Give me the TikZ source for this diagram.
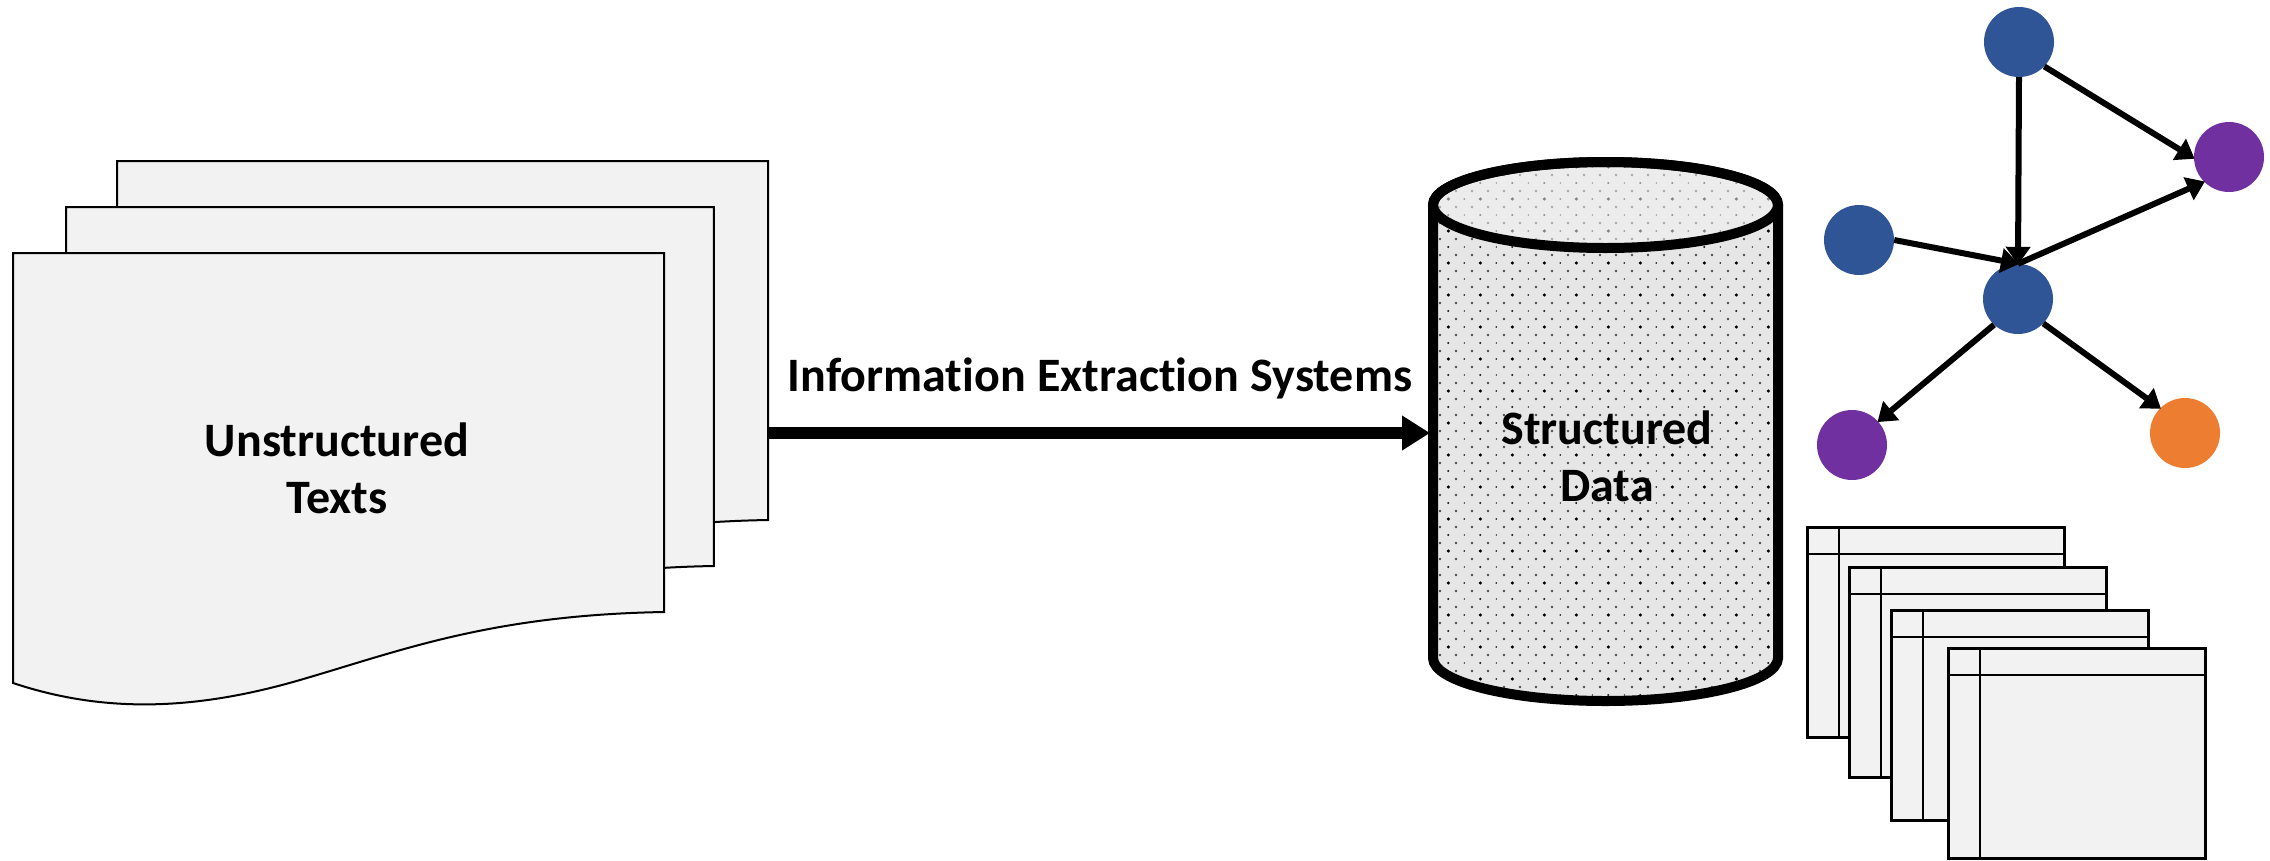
\documentclass[tikz,border=0pt]{standalone}
\usepackage{fontspec}
\setmainfont[Ligatures=NoCommon,WordSpace=1.05]{Carlito}
\usetikzlibrary{arrows.meta}
\definecolor{paper}{HTML}{F2F2F2}
\definecolor{cylbody}{HTML}{E6E6E6}
\definecolor{nblue}{HTML}{2F5597}
\definecolor{npurple}{HTML}{7030A0}
\definecolor{norange}{HTML}{ED7D31}
\tikzset{
  x=1pt,y=-1pt,
  docsheet/.style={draw=black,fill=paper,line width=2pt,line join=miter},
  tablesheet/.style={draw=black,fill=paper,line width=3pt},
  tableline/.style={draw=black,line width=2.8pt},
  gnode/.style={circle,minimum size=70pt,inner sep=0pt,draw=none},
  gedge/.style={draw=black,line width=6pt,-{Triangle[length=18pt,width=24pt]},shorten >=-1pt},
  label/.style={font=\fontsize{48}{48}\selectfont\bfseries,inner sep=0pt,text=black},
  mainarrow/.style={draw=black,line width=12pt,-{Triangle[length=28pt,width=33pt]}},
}
\newcommand{\docsheetpath}[3]{%
  \begin{scope}[shift={(#1,#2)},xscale=#3]
  \path[docsheet] (0,253) -- (651,253) -- (651,612)
    .. controls (477,615) and (387,651) .. (287,680)
    .. controls (177,712) and (87,712) .. (0,683) -- cycle;
  \end{scope}}
\newcommand{\tablesheetpath}[2]{%
  \begin{scope}[shift={(#1,#2)}]
    \path[tablesheet] (0,0) rectangle (257,210);
    \draw[tableline] (0,27) -- (257,27);
    \draw[tableline] (32,0) -- (32,210);
  \end{scope}}
\newcommand{\cylpath}{(1433,205) .. controls (1433,181.25) and (1510.2,162) .. (1605.5,162)
  .. controls (1700.8,162) and (1778,181.25) .. (1778,205) -- (1778,658)
  .. controls (1778,681.75) and (1700.8,701) .. (1605.5,701)
  .. controls (1510.2,701) and (1433,681.75) .. (1433,658) -- cycle}
\begin{document}
\begin{tikzpicture}
\useasboundingbox (0,0) rectangle (2270,860);
% documents
\docsheetpath{117}{-92}{1}
\docsheetpath{66}{-46}{.995}
\docsheetpath{13}{0}{1}
\node[label] (ut) at (337,440) {Unstructured};
\node[label] (tx) at (337,498) {Texts};
% cylinder
\path[fill=cylbody] \cylpath;
\begin{scope}
  \clip \cylpath;
  \foreach \j in {0,...,68} {
    \pgfmathtruncatemacro{\m}{mod(\j,4)}
    \pgfmathsetmacro{\yy}{159+8*\j}
    \pgfmathsetmacro{\xs}{mod(\j,2)==1 ? 1448.3 : 1440}
    \foreach \i in {0,...,20} {
      \pgfmathsetmacro{\xx}{\xs+16*\i}
      \pgfmathtruncatemacro{\ev}{mod(\i,2)}
      \pgfmathsetmacro{\rr}{\m==1 ? (\ev==0 ? 1.7 : 0.9) : (\m==3 ? (\ev==0 ? 1.1 : 0.8) : 1.3)}
      \pgfmathsetmacro{\gg}{\m==1 ? 100 : (\m==3 ? 90 : 70)}
      \fill[black!\gg] (\xx,\yy) circle[radius=\rr];
    }
  }
\end{scope}
\path[fill=paper,fill opacity=.55] (1605.5,205) ellipse[x radius=172.5,y radius=43];
\draw[black,line width=10pt] \cylpath;
\draw[black,line width=10pt] (1605.5,205) ellipse[x radius=172.5,y radius=43];
\node[label] (sd) at (1607,428) {Structured};
\node[label] (da) at (1607,486) {Data};
% main arrow
\coordinate (docR) at (768,433);
\coordinate (cylL) at (1430,433);
\draw[mainarrow] (docR) -- (cylL);
\node[label] (ie) at (1100,378) {Information Extraction Systems};
% graph
\node[gnode,fill=nblue] (n1) at (2019,42) {};
\node[gnode,fill=npurple] (n2) at (2229,157) {};
\node[gnode,fill=nblue] (n3) at (1859,240) {};
\node[gnode,fill=nblue] (n4) at (2018,299) {};
\node[gnode,fill=npurple] (n5) at (1852,445) {};
\node[gnode,fill=norange] (n6) at (2185,433) {};
\draw[gedge] (n1.south) -- (n4.north);
\draw[gedge] (n1.-44) -- (n2.182);
\draw[gedge] (n4.north) -- (n2.225);
\draw[gedge] (n3.east) -- (n4.north);
\draw[gedge] (n4.-133) -- (n5.42);
\draw[gedge] (n4.-44) -- (n6.135);
% tables
\tablesheetpath{1807}{527}
\tablesheetpath{1849}{567}
\tablesheetpath{1891}{610}
\tablesheetpath{1948}{648}
\end{tikzpicture}
\end{document}
